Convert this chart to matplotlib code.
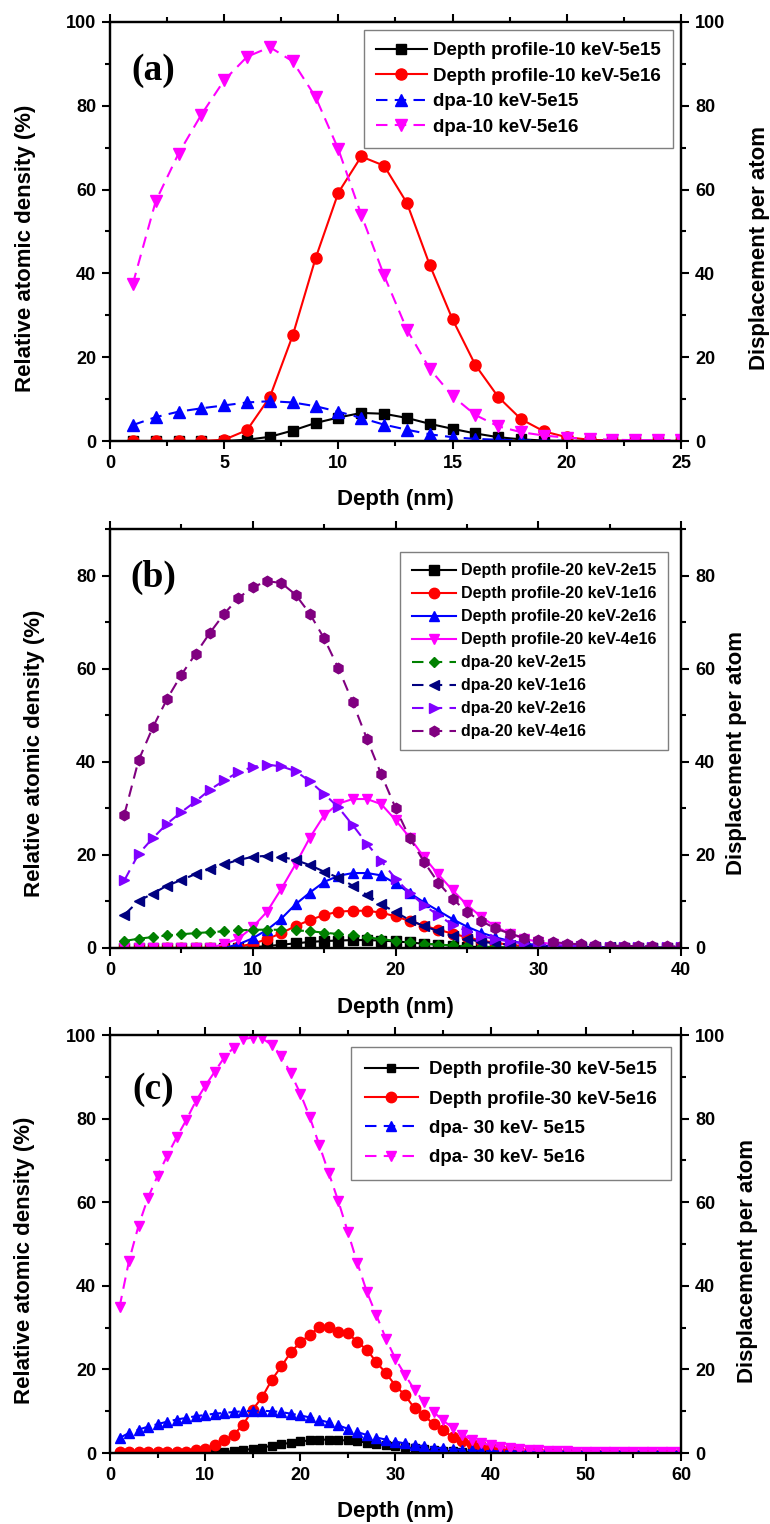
import numpy as np
import matplotlib
matplotlib.use('Agg')
import matplotlib.pyplot as plt
from matplotlib.ticker import MultipleLocator

plt.rcParams['font.family'] = ['Liberation Sans', 'DejaVu Sans']
plt.rcParams['font.weight'] = 'bold'

# ---------------- Panel (a): 10 keV ----------------
a_depth = list(range(1, 26))
a_dp_5e15 = [0, 0, 0, 0, 0, 0.3, 1.0, 2.5, 4.3, 5.6, 6.7, 6.5, 5.5, 4.1, 2.9, 1.8, 0.9, 0.4, 0.1, 0, 0, 0, 0, 0, 0]
a_dp_5e16 = [0, 0, 0, 0, 0.3, 2.6, 10.5, 25.2, 43.6, 59.3, 67.9, 65.7, 56.8, 42.0, 29.0, 18.1, 10.5, 5.2, 2.3, 0.9, 0.3, 0.1, 0, 0, 0]
a_dpa_5e15 = [3.8, 5.7, 7.0, 7.8, 8.5, 9.2, 9.5, 9.2, 8.3, 7.0, 5.5, 3.9, 2.7, 1.6, 0.9, 0.5, 0.3, 0.15, 0.1, 0.05, 0, 0, 0, 0, 0]
a_dpa_5e16 = [37.5, 57.2, 68.6, 77.9, 86.1, 91.7, 94.0, 90.6, 82.1, 69.6, 54.0, 39.5, 26.6, 17.2, 10.7, 6.2, 3.5, 2.1, 1.3, 0.8, 0.5, 0.3, 0.2, 0.2, 0.2]
a_labels = ['Depth profile-10 keV-5e15', 'Depth profile-10 keV-5e16', 'dpa-10 keV-5e15', 'dpa-10 keV-5e16']

# ---------------- Panel (b): 20 keV ----------------
b_depth = list(range(1, 41))
b_dp_2e15 = [0, 0, 0, 0, 0, 0, 0, 0, 0, 0.2,
             0.4, 0.7, 1.0, 1.3, 1.5, 1.6, 1.7, 1.7, 1.6, 1.4,
             1.2, 0.9, 0.7, 0.5, 0.3, 0.2, 0.1, 0.05, 0, 0,
             0, 0, 0, 0, 0, 0, 0, 0, 0, 0]
b_dp_1e16 = [0, 0, 0, 0, 0, 0, 0, 0, 0.3, 0.9,
             1.9, 3.2, 4.7, 6.0, 7.1, 7.8, 8.0, 8.0, 7.6, 6.8,
             5.8, 4.8, 3.9, 3.1, 2.3, 1.6, 1.1, 0.7, 0.4, 0.3,
             0.2, 0.1, 0, 0, 0, 0, 0, 0, 0, 0]
b_dp_2e16 = [0, 0, 0, 0, 0, 0, 0, 0, 0.8, 2.1,
             3.9, 6.3, 9.4, 11.9, 14.2, 15.5, 16.1, 16.1, 15.6, 13.9,
             11.8, 9.8, 8.0, 6.2, 4.6, 3.3, 2.3, 1.5, 1.0, 0.6,
             0.4, 0.2, 0.1, 0, 0, 0, 0, 0, 0, 0]
b_dp_4e16 = [0, 0, 0, 0, 0, 0, 0, 0.9, 2.0, 4.5,
             7.8, 12.7, 18.0, 23.7, 28.5, 31.0, 32.0, 32.0, 30.9, 27.5,
             23.7, 19.5, 15.8, 12.4, 9.3, 6.7, 4.6, 3.1, 2.0, 1.3,
             0.8, 0.5, 0.3, 0.2, 0.1, 0.05, 0.05, 0.05, 0.05, 0.05]
b_dpa_2e15 = [1.5, 2.0, 2.35, 2.7, 2.95, 3.2, 3.4, 3.6, 3.8, 3.9,
              3.95, 3.9, 3.8, 3.6, 3.3, 3.0, 2.7, 2.3, 1.9, 1.55,
              1.2, 0.95, 0.75, 0.55, 0.4, 0.28, 0.2, 0.14, 0.1, 0.08,
              0.06, 0.05, 0.04, 0.03, 0.02, 0.02, 0.02, 0.02, 0.02, 0.02]
b_dpa_1e16 = [7.1, 10.1, 11.7, 13.4, 14.6, 15.9, 17.0, 18.0, 18.9, 19.6,
              19.8, 19.6, 18.9, 17.8, 16.4, 15.1, 13.4, 11.4, 9.4, 7.7,
              6.0, 4.7, 3.6, 2.6, 1.9, 1.35, 1.0, 0.7, 0.5, 0.4,
              0.3, 0.25, 0.2, 0.15, 0.12, 0.1, 0.1, 0.1, 0.1, 0.1]
b_dpa_2e16 = [14.5, 20.2, 23.6, 26.7, 29.2, 31.5, 34.0, 36.0, 37.8, 38.9,
              39.4, 39.0, 38.0, 35.8, 33.1, 30.2, 26.4, 22.4, 18.7, 14.9,
              11.8, 9.2, 7.0, 5.0, 3.6, 2.6, 1.9, 1.4, 1.0, 0.8,
              0.6, 0.45, 0.4, 0.3, 0.25, 0.2, 0.2, 0.2, 0.2, 0.2]
b_dpa_4e16 = [28.6, 40.3, 47.4, 53.5, 58.7, 63.2, 67.7, 71.8, 75.2, 77.5,
              78.8, 78.4, 75.9, 71.8, 66.5, 60.1, 52.8, 44.9, 37.3, 30.1,
              23.6, 18.5, 14.0, 10.6, 7.7, 5.8, 4.2, 3.1, 2.2, 1.65,
              1.3, 0.95, 0.8, 0.6, 0.5, 0.45, 0.4, 0.4, 0.35, 0.35]
b_labels = ['Depth profile-20 keV-2e15', 'Depth profile-20 keV-1e16', 'Depth profile-20 keV-2e16',
            'Depth profile-20 keV-4e16', 'dpa-20 keV-2e15', 'dpa-20 keV-1e16', 'dpa-20 keV-2e16',
            'dpa-20 keV-4e16']

# ---------------- Panel (c): 30 keV ----------------
c_depth = list(range(1, 61))
c_dp_5e15 = [0, 0, 0, 0, 0, 0, 0, 0, 0, 0.05,
             0.15, 0.3, 0.45, 0.7, 1.0, 1.3, 1.75, 2.1, 2.45, 2.8,
             3.0, 3.2, 3.2, 3.1, 3.0, 2.8, 2.5, 2.2, 1.9, 1.6,
             1.35, 1.1, 0.85, 0.65, 0.5, 0.4, 0.3, 0.2, 0.15, 0.1,
             0.05, 0, 0, 0, 0, 0, 0, 0, 0, 0,
             0, 0, 0, 0, 0, 0, 0, 0, 0, 0]
c_dp_5e16 = [0.2, 0.2, 0.2, 0.2, 0.2, 0.2, 0.3, 0.3, 0.6, 1.0,
             1.8, 3.0, 4.4, 6.8, 10.4, 13.4, 17.5, 20.7, 24.1, 26.5,
             28.3, 30.1, 30.1, 29.0, 28.7, 26.5, 24.7, 21.7, 19.1, 16.1,
             13.8, 10.7, 9.0, 6.9, 5.4, 3.8, 2.8, 2.1, 1.6, 1.2,
             0.9, 0.6, 0.4, 0.3, 0.2, 0.1, 0.1, 0.05, 0, 0,
             0, 0, 0, 0, 0, 0, 0, 0, 0, 0]
c_dpa_5e15 = [3.6, 4.8, 5.6, 6.3, 6.9, 7.5, 8.0, 8.4, 8.8, 9.1,
              9.4, 9.6, 9.8, 10.0, 10.1, 10.1, 10.0, 9.8, 9.4, 9.0,
              8.5, 7.9, 7.3, 6.6, 5.8, 5.0, 4.3, 3.7, 3.2, 2.7,
              2.3, 1.9, 1.6, 1.3, 1.1, 0.9, 0.75, 0.6, 0.5, 0.45,
              0.4, 0.4, 0.4, 0.35, 0.35, 0.35, 0.35, 0.3, 0.3, 0.3,
              0.3, 0.3, 0.3, 0.3, 0.3, 0.3, 0.3, 0.3, 0.3, 0.3]
c_dpa_5e16 = [34.9, 46.0, 54.4, 61.1, 66.3, 71.1, 75.5, 79.6, 84.1, 87.8,
              91.2, 94.6, 97.0, 99.0, 99.4, 99.2, 97.6, 95.0, 90.8, 86.0,
              80.3, 73.6, 66.9, 60.2, 52.8, 45.4, 38.5, 32.9, 27.3, 22.5,
              18.7, 15.1, 12.2, 9.8, 7.8, 6.0, 4.4, 3.2, 2.4, 1.8,
              1.4, 1.1, 0.9, 0.7, 0.6, 0.5, 0.45, 0.4, 0.35, 0.3,
              0.3, 0.3, 0.25, 0.25, 0.25, 0.2, 0.2, 0.2, 0.2, 0.2]
c_labels = ['Depth profile-30 keV-5e15', 'Depth profile-30 keV-5e16', 'dpa- 30 keV- 5e15', 'dpa- 30 keV- 5e16']

# ---------------- Figure ----------------
FW, FH = 770, 1524
fig = plt.figure(figsize=(FW / 100, FH / 100), dpi=100)

AX_L, AX_R = 110, 681


def make_axes(top_px, bot_px):
    rect = [AX_L / FW, 1 - bot_px / FH, (AX_R - AX_L) / FW, (bot_px - top_px) / FH]
    ax = fig.add_axes(rect)
    ax2 = ax.twinx()
    return ax, ax2


def style(ax, ax2, xmax, xmaj, ymax, ylab_x, y2lab_x, ylab_y):
    ax.set_xlim(0, xmax)
    ax.set_ylim(0, ymax)
    ax2.set_ylim(0, ymax)
    ax.xaxis.set_major_locator(MultipleLocator(xmaj))
    ax.xaxis.set_minor_locator(MultipleLocator(xmaj / 2))
    for a in (ax, ax2):
        a.yaxis.set_major_locator(MultipleLocator(20))
        a.yaxis.set_minor_locator(MultipleLocator(10))
        for s in a.spines.values():
            s.set_linewidth(1.6)
    ax.tick_params(which='both', direction='out', top=True, right=False, labelsize=13,
                   width=1.5, pad=4)
    ax.tick_params(which='major', length=6)
    ax.tick_params(which='minor', length=3.5)
    ax2.tick_params(which='both', direction='out', labelsize=13, width=1.5, pad=4)
    ax2.tick_params(which='major', length=6)
    ax2.tick_params(which='minor', length=3.5)
    h = ax.get_position().height * FH
    ax.set_xlabel('Depth (nm)', fontsize=16, fontweight='bold')
    ax.xaxis.set_label_coords(0.5, -59 / h)
    ax.xaxis.label.set_verticalalignment('center')
    ax.set_ylabel('Relative atomic density (%)', fontsize=16, fontweight='bold')
    ax.yaxis.set_label_coords((ylab_x - AX_L) / (AX_R - AX_L), ylab_y)
    ax.yaxis.label.set_verticalalignment('center')
    ax2.set_ylabel('Displacement per atom', fontsize=16, fontweight='bold')
    ax2.yaxis.set_label_coords((y2lab_x - AX_L) / (AX_R - AX_L), ylab_y)
    ax2.yaxis.label.set_verticalalignment('center')


def solid(ax, x, y, color, marker, ms, label):
    return ax.plot(x, y, color=color, lw=1.5, marker=marker, ms=ms, mec=color, mfc=color,
                   ls='-', label=label)[0]


def dashed(ax, x, y, color, marker, ms, label):
    return ax.plot(x, y, color=color, lw=1.5, marker=marker, ms=ms, mec=color, mfc=color,
                   ls='--', dashes=(5.5, 3.5), label=label)[0]


def legend(ax, ax2, handles, anchor, size, spacing, hlen, bpad, tpad):
    leg = ax2.legend(handles=handles, loc='upper right', bbox_to_anchor=anchor,
                     bbox_transform=ax.transAxes, prop={'size': size, 'weight': 'bold'},
                     frameon=True, fancybox=False, edgecolor='#7f7f7f', framealpha=1,
                     borderaxespad=0, borderpad=bpad, labelspacing=spacing,
                     handlelength=hlen, handletextpad=tpad, numpoints=1)
    leg.get_frame().set_linewidth(1.0)
    return leg


def panel_label(ax, text, y):
    ax.text(0.076, y, text, transform=ax.transAxes, fontsize=27, fontweight='bold',
            family=['Liberation Serif', 'DejaVu Serif'], ha='center', va='center', zorder=10)


# ---- (a)
axa, axa2 = make_axes(22, 441)
h1 = solid(axa, a_depth, a_dp_5e15, 'black', 's', 6.5, a_labels[0])
h2 = solid(axa, a_depth, a_dp_5e16, '#ff0000', 'o', 8, a_labels[1])
h3 = dashed(axa2, a_depth, a_dpa_5e15, '#0000ff', '^', 8, a_labels[2])
h4 = dashed(axa2, a_depth, a_dpa_5e16, '#ff00ff', 'v', 8, a_labels[3])
style(axa, axa2, 25, 5, 100, 25, 760, 0.46)
legend(axa, axa2, [h1, h2, h3, h4], (0.986, 0.981), 13.5, 0.45, 2.7, 0.65, 0.35)
panel_label(axa, '(a)', 0.885)

# ---- (b)
axb, axb2 = make_axes(529, 948)
g1 = solid(axb, b_depth, b_dp_2e15, 'black', 's', 6.5, b_labels[0])
g2 = solid(axb, b_depth, b_dp_1e16, '#ff0000', 'o', 7.5, b_labels[1])
g3 = solid(axb, b_depth, b_dp_2e16, '#0000ff', '^', 7.5, b_labels[2])
g4 = solid(axb, b_depth, b_dp_4e16, '#ff00ff', 'v', 7.5, b_labels[3])
g5 = dashed(axb2, b_depth, b_dpa_2e15, '#008000', 'D', 5.5, b_labels[4])
g6 = dashed(axb2, b_depth, b_dpa_1e16, '#000080', '<', 7.5, b_labels[5])
g7 = dashed(axb2, b_depth, b_dpa_2e16, '#8000ff', '>', 7.5, b_labels[6])
g8 = dashed(axb2, b_depth, b_dpa_4e16, '#800080', 'h', 7.5, b_labels[7])
style(axb, axb2, 40, 10, 90, 34, 737, 0.465)
legend(axb, axb2, [g1, g2, g3, g4, g5, g6, g7, g8], (0.977, 0.945), 11.5, 0.5, 2.75, 0.7, 0.35)
panel_label(axb, '(b)', 0.885)

# ---- (c)
axc, axc2 = make_axes(1035, 1453)
k1 = solid(axc, c_depth, c_dp_5e15, 'black', 's', 6, c_labels[0])
k2 = solid(axc, c_depth, c_dp_5e16, '#ff0000', 'o', 7.5, c_labels[1])
k3 = dashed(axc2, c_depth, c_dpa_5e15, '#0000ff', '^', 7.5, c_labels[2])
k4 = dashed(axc2, c_depth, c_dpa_5e16, '#ff00ff', 'v', 7.5, c_labels[3])
style(axc, axc2, 60, 10, 100, 24, 748, 0.46)
legend(axc, axc2, [k1, k2, k3, k4], (0.982, 0.971), 13.5, 0.65, 2.8, 0.75, 0.6)
panel_label(axc, '(c)', 0.87)

fig.savefig('out.png', dpi=100)
